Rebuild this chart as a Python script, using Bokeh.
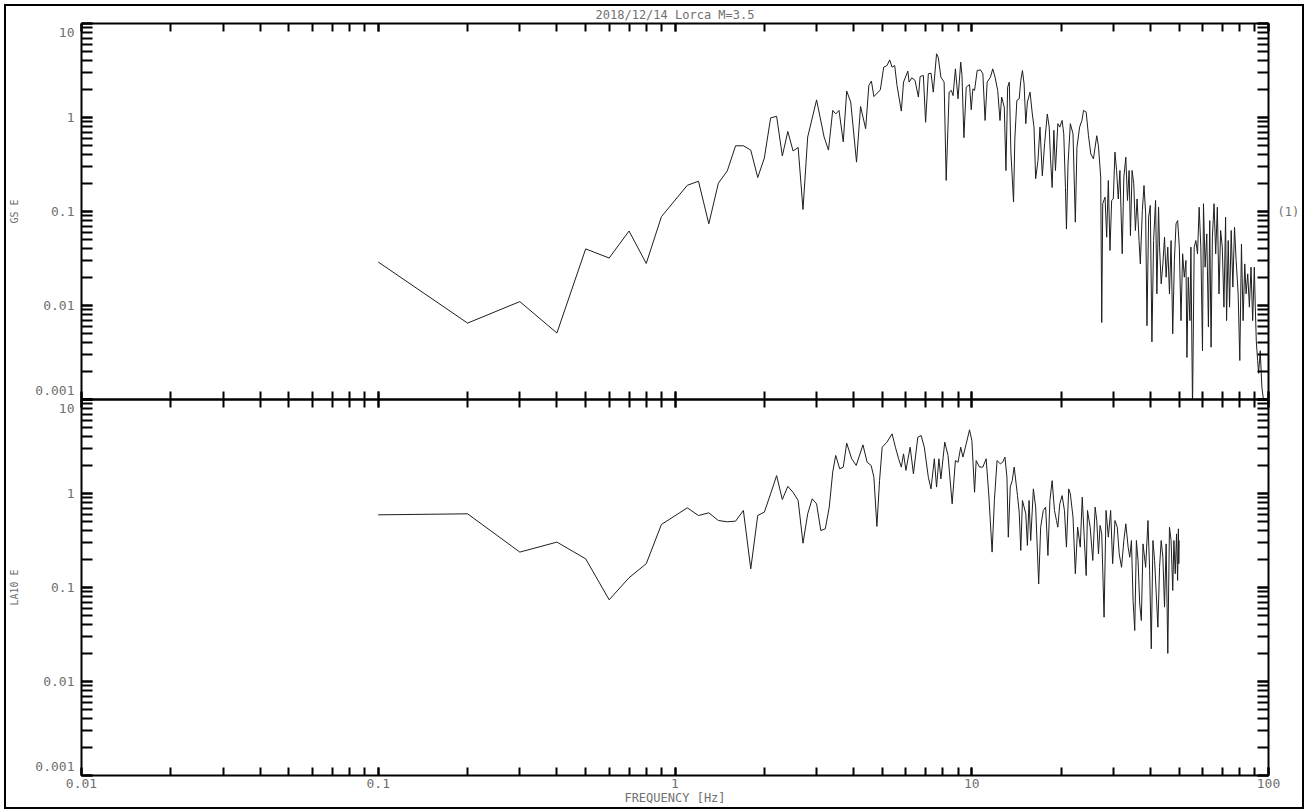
from bokeh.plotting import figure
from bokeh.models import Range1d, LogAxis, LogTicker, CustomJSTickFormatter
from bokeh.layouts import column
from bokeh.embed import file_html
from bokeh.resources import INLINE

TITLE = "2018/12/14 Lorca M=3.5"
X_LABEL = "FREQUENCY [Hz]"
GS_LABEL = "GS E"
LA10_LABEL = "LA10 E"
GS_NOTE = "(1)"

# Amplitude spectrum, station GS, E component (frequency in Hz)
gs_freq = [
    0.1, 0.2, 0.3, 0.4, 0.5, 0.6, 0.7, 0.8, 0.9, 1.1, 1.2, 1.3, 1.4, 1.5,
    1.6, 1.7, 1.8, 1.9, 2.0, 2.1, 2.2, 2.3, 2.4, 2.5, 2.6, 2.7, 2.8, 3.0,
    3.18, 3.29, 3.40, 3.48, 3.57, 3.69, 3.79, 3.91, 4.09, 4.22, 4.39, 4.50,
    4.59, 4.68, 4.92, 5.05, 5.18, 5.29, 5.39, 5.50, 5.60, 5.79, 5.89, 6.09,
    6.15, 6.28, 6.44, 6.61, 6.70, 6.87, 6.99, 7.14, 7.29, 7.42, 7.61, 7.71,
    7.87, 8.07, 8.20, 8.39, 8.54, 8.65, 8.81, 8.99, 9.18, 9.27, 9.41, 9.58,
    9.83, 9.96, 10.09, 10.22, 10.43, 10.70, 10.90, 11.09, 11.27, 11.56,
    11.77, 11.98, 12.23, 12.45, 12.61, 12.87, 13.04, 13.21, 13.38, 13.55,
    13.83, 13.97, 14.19, 14.45, 14.63, 14.82, 15.01, 15.21, 15.40, 15.72,
    16.00, 16.21, 16.42, 16.72, 16.98, 17.29, 17.60, 17.97, 18.24, 18.43,
    18.66, 18.91, 19.15, 19.50, 19.80, 20.16, 20.42, 20.69, 20.85, 21.11,
    21.49, 21.94, 22.34, 22.62, 23.09, 23.51, 23.81, 24.30, 24.74, 25.19,
    25.71, 26.38, 26.72, 27.20, 27.42, 27.63, 28.13, 28.49, 28.86, 29.23,
    29.61, 29.99, 30.38, 30.77, 31.17, 31.57, 32.14, 32.55, 33.05, 33.48,
    33.91, 34.26, 34.70, 35.15, 35.60, 36.07, 36.62, 36.99, 37.57, 38.06,
    38.55, 38.95, 39.45, 39.96, 40.47, 41.00, 41.64, 42.06, 42.61, 42.94,
    43.49, 44.06, 44.63, 45.19, 45.77, 46.37, 46.96, 47.56, 48.18, 48.80,
    49.42, 50.06, 50.71, 51.36, 52.03, 52.70, 53.11, 53.65, 54.35, 54.77,
    55.46, 56.18, 56.91, 57.65, 58.39, 59.15, 59.92, 60.38, 61.15, 61.94,
    62.74, 63.39, 64.04, 64.70, 65.54, 66.38, 67.23, 68.10, 68.98, 69.87,
    70.77, 71.68, 72.23, 73.16, 73.92, 74.87, 75.84, 76.82, 77.80, 79.02,
    80.04, 81.07, 82.11, 83.17, 84.03, 85.12, 86.21, 87.32, 88.44, 89.58,
    90.27, 90.96, 91.90, 92.60, 93.80, 95.00, 96.23, 98.0, 100.0,
]
gs_amp = [
    0.029, 0.0065, 0.011, 0.0051, 0.040, 0.032, 0.062, 0.028, 0.088, 0.19,
    0.21, 0.074, 0.20, 0.27, 0.50, 0.50, 0.45, 0.23, 0.37, 0.99, 1.03, 0.39,
    0.71, 0.44, 0.48, 0.105, 0.62, 1.54,
    0.62, 0.45, 1.19, 1.09, 1.19, 0.55, 1.91, 1.46, 0.335, 1.31, 0.76, 2.19,
    2.44, 1.67, 1.97, 3.43, 3.57, 4.10, 3.43, 3.57, 2.19, 1.17, 2.38, 3.11,
    2.38, 2.64, 2.48, 1.65, 2.73, 2.80, 0.89, 2.92, 2.96, 1.86, 4.76, 4.38,
    2.69, 2.38, 0.214, 1.86, 1.94, 1.71, 3.29, 1.58, 3.88, 2.80, 0.61, 2.10,
    2.24, 1.21, 2.02, 1.94, 3.16, 3.21, 2.92, 0.93, 2.38, 2.69,
    3.29, 2.69, 1.94, 0.93, 1.65, 1.29, 0.273, 2.10, 2.38, 0.43,
    0.126, 0.59, 1.52, 1.58, 2.48, 3.16, 2.28, 0.86, 1.46, 1.86,
    1.09, 0.79, 0.223, 0.35, 0.79, 0.24, 0.525, 1.09, 0.79, 0.363,
    0.18, 0.73, 0.273, 0.86, 0.79, 0.93, 0.67, 0.18, 0.065, 0.32,
    0.86, 0.67, 0.077, 0.48, 0.79, 0.93, 1.19, 1.14, 0.64, 0.41,
    0.363, 0.64, 0.50, 0.232, 0.0066, 0.121, 0.142, 0.0533, 0.214, 0.0385,
    0.131, 0.136, 0.428, 0.273, 0.136, 0.273, 0.0355, 0.232, 0.378, 0.131,
    0.273, 0.0555, 0.273, 0.197, 0.0628, 0.136, 0.0491, 0.0277, 0.1025, 0.189,
    0.0945, 0.0061, 0.087, 0.116, 0.0041, 0.0491, 0.131, 0.0133, 0.111, 0.0418,
    0.0170, 0.0277, 0.0533, 0.0200, 0.0418, 0.0133, 0.0491, 0.0050, 0.0301, 0.074,
    0.080, 0.0418, 0.0069, 0.0355, 0.0200, 0.0301, 0.0028, 0.0200, 0.0069, 0.0418,
    0.0008, 0.0418, 0.0491, 0.0355, 0.111, 0.0418, 0.0033, 0.121, 0.0256, 0.0578,
    0.0059, 0.080, 0.0036, 0.0533, 0.121, 0.0355, 0.111, 0.0133, 0.0628, 0.0418,
    0.0096, 0.087, 0.0069, 0.0491, 0.0096, 0.0628, 0.0157, 0.068, 0.0301, 0.0133,
    0.0026, 0.045, 0.0069, 0.0277, 0.0133, 0.0217, 0.0096, 0.0256, 0.0069, 0.0256,
    0.0096, 0.0042, 0.0026, 0.0019, 0.0033, 0.00135, 0.00098, 0.0006, 0.0004,
]

# Amplitude spectrum, station LA10, E component (frequency in Hz)
la10_freq = [
    0.1, 0.2, 0.3, 0.4, 0.5, 0.6, 0.7, 0.8, 0.9, 1.1, 1.2, 1.3, 1.4, 1.5,
    1.6, 1.7, 1.8, 1.9, 2.0, 2.1, 2.2, 2.3, 2.4, 2.5, 2.6, 2.7, 2.8, 2.9,
    3.0, 3.1, 3.21, 3.31, 3.40, 3.48, 3.59, 3.69, 3.79, 3.94, 4.08, 4.30,
    4.44, 4.58, 4.68, 4.79, 4.89, 4.99, 5.18, 5.39, 5.53, 5.67, 5.79, 5.89,
    6.00, 6.20, 6.36, 6.58, 6.75, 6.92, 7.14, 7.29, 7.48, 7.61, 7.75, 7.87,
    8.11, 8.32, 8.59, 8.81, 8.99, 9.18, 9.34, 9.58, 9.83, 10.01, 10.22,
    10.35, 10.62, 10.90, 11.18, 11.41, 11.71, 11.92, 12.17, 12.48, 12.71,
    12.94, 13.14, 13.28, 13.48, 13.69, 13.90, 14.26, 14.45, 14.63, 14.82,
    15.21, 15.40, 15.60, 15.80, 16.13, 16.42, 16.81, 17.07, 17.42, 17.74,
    18.06, 18.34, 18.66, 19.00, 19.30, 19.50, 19.80, 20.16, 20.53, 20.85,
    21.22, 21.49, 21.94, 22.34, 22.74, 23.21, 23.57, 23.93, 24.30, 24.55,
    25.06, 25.58, 26.05, 26.38, 26.73, 27.07, 27.42, 27.92, 28.35, 28.86,
    29.38, 29.84, 30.38, 30.93, 31.40, 31.97, 32.55, 33.05, 33.65, 34.08,
    34.52, 34.97, 35.42, 35.88, 36.34, 36.81, 37.28, 37.77, 38.55, 39.25,
    39.76, 40.27, 40.79, 41.32, 41.85, 42.39, 42.94, 43.49, 44.06, 44.63,
    45.19, 45.78, 46.37, 46.96, 47.57, 48.0, 48.5, 49.0, 49.4, 49.7, 49.85,
    50.0,
]
la10_amp = [
    0.593, 0.608, 0.238, 0.304, 0.202, 0.074, 0.127, 0.179, 0.468, 0.704,
    0.583, 0.623, 0.516, 0.500, 0.508, 0.66, 0.158, 0.583, 0.633, 0.992,
    1.55, 0.863, 1.19, 1.03, 0.843, 0.296, 0.608, 0.878, 0.776, 0.404,
    0.421, 0.716, 1.69, 2.54, 1.83, 1.91, 3.43, 2.34, 1.99, 3.29,
    2.15, 1.99, 1.49, 0.446, 1.37, 3.11, 3.52, 4.31, 3.11, 2.34, 1.91, 2.64,
    1.76, 3.11, 1.62, 3.97, 4.14, 3.11, 1.49, 1.12, 2.34, 1.17, 2.34, 1.43,
    3.52, 2.54, 0.776, 2.24, 2.15, 3.11, 2.44, 3.38, 4.76, 3.66, 1.03,
    2.24, 1.91, 1.91, 2.34, 0.99, 0.238, 0.843, 2.24, 2.07, 2.15,
    2.44, 1.49, 0.343, 1.17, 1.37, 1.91, 0.95, 0.633, 0.248, 0.843,
    0.608, 0.28, 0.843, 0.316, 1.12, 0.716, 0.109, 0.438, 0.66, 0.716,
    0.219, 0.843, 1.37, 0.66, 0.516, 0.438, 0.776, 0.95, 0.66, 0.269,
    1.12, 0.99, 0.56, 0.14, 0.438, 0.269, 0.914, 0.343, 0.134, 0.66,
    0.438, 0.194, 0.716, 0.516, 0.228, 0.457, 0.372, 0.0483, 0.66, 0.343,
    0.66, 0.179, 0.516, 0.438, 0.228, 0.164, 0.316, 0.476, 0.269, 0.21,
    0.316, 0.0728, 0.0349, 0.316, 0.194, 0.067, 0.0446, 0.291, 0.164, 0.516,
    0.152, 0.0223, 0.316, 0.194, 0.0857, 0.0378, 0.164, 0.316, 0.21, 0.0618,
    0.291, 0.0199, 0.438, 0.316, 0.093, 0.316, 0.14, 0.372, 0.119, 0.421, 0.179,
    0.316,
]

FONT = "DejaVu Sans Mono"
TEXT_GRAY = "#707070"
TRACE = "#1e1e1e"
SEAM = 20  # spare canvas on each side of the shared panel edge

freq_range = Range1d(0.01, 100)
x_format = CustomJSTickFormatter(code="return Number(tick.toPrecision(3)).toString();")
# end labels of the amplitude axis get a blank line so they sit inside the panel
y_format = CustomJSTickFormatter(code="""
    const s = Number(tick.toPrecision(3)).toString();
    if (tick >= 9.99) { return ' \\n' + s; }
    if (tick <= 0.00101) { return s + '\\n '; }
    return s;
""")


def style_axis(ax, tick_len, labelled, fmt):
    ax.ticker = LogTicker(num_minor_ticks=10)
    ax.axis_line_color = "black"
    ax.axis_line_width = 2
    ax.major_tick_in = tick_len
    ax.major_tick_out = 0
    ax.minor_tick_in = tick_len
    ax.minor_tick_out = 0
    ax.major_tick_line_color = "black"
    ax.minor_tick_line_color = "black"
    ax.major_tick_line_width = 2
    ax.minor_tick_line_width = 2
    ax.formatter = fmt
    ax.major_label_text_font = FONT
    if labelled:
        ax.major_label_text_font_size = "13px"
        ax.major_label_text_color = TEXT_GRAY
    else:
        # ticks only: labels kept tiny and fully transparent
        ax.major_label_text_font_size = "1px"
        ax.major_label_text_alpha = 0
        ax.major_label_standoff = 0


def panel(height, top, bottom, ylabel, freq, amp, x_labelled):
    p = figure(width=1296, height=height, x_axis_type="log", y_axis_type="log",
               x_range=freq_range, y_range=Range1d(0.001, 10),
               output_backend="svg", toolbar_location=None,
               min_border_left=68, min_border_right=30,
               min_border_top=top, min_border_bottom=bottom)
    p.outline_line_color = None
    p.xgrid.visible = False
    p.ygrid.visible = False

    x_below = p.xaxis[0]
    y_left = p.yaxis[0]
    style_axis(x_below, 8, x_labelled, x_format)
    style_axis(y_left, 11, True, y_format)
    y_left.major_label_standoff = 7
    y_left.axis_label = ylabel
    y_left.axis_label_text_font = FONT
    y_left.axis_label_text_font_size = "10px"
    y_left.axis_label_text_font_style = "normal"
    y_left.axis_label_text_color = TEXT_GRAY
    y_left.axis_label_standoff = 12

    x_above = LogAxis()
    style_axis(x_above, 8, False, x_format)
    p.add_layout(x_above, "above")

    y_right = LogAxis()
    style_axis(y_right, 11, False, x_format)
    p.add_layout(y_right, "right")

    p.line(freq, amp, line_color=TRACE, line_width=1)
    return p, x_below, y_right


# upper panel: GS station
p_gs, _, gs_right = panel(393 + SEAM, 17, SEAM, GS_LABEL, gs_freq, gs_amp, False)
p_gs.background_fill_color = "white"
p_gs.border_fill_color = "white"
gs_right.axis_label = GS_NOTE
gs_right.axis_label_orientation = "horizontal"
gs_right.axis_label_text_font = FONT
gs_right.axis_label_text_font_size = "12px"
gs_right.axis_label_text_font_style = "normal"
gs_right.axis_label_text_color = TEXT_GRAY
gs_right.axis_label_standoff = 9

p_gs.title.text = TITLE
p_gs.title.align = "center"
p_gs.title.vertical_align = "top"
p_gs.title.text_font = FONT
p_gs.title.text_font_size = "12px"
p_gs.title.text_font_style = "normal"
p_gs.title.text_color = TEXT_GRAY
p_gs.title.standoff = 0

# lower panel: LA10 station, transparent so it can share the seam with the upper one
p_la, xa, _ = panel(408 + SEAM, SEAM, 32, LA10_LABEL, la10_freq, la10_amp, True)
p_la.background_fill_color = None
p_la.border_fill_color = None
p_la.margin = (-2 * SEAM, 0, 0, 0)
xa.major_label_standoff = 3
xa.axis_label = X_LABEL
xa.axis_label_text_font = FONT
xa.axis_label_text_font_size = "12px"
xa.axis_label_text_font_style = "normal"
xa.axis_label_text_color = TEXT_GRAY
xa.axis_label_standoff = 0

layout = column(p_gs, p_la, spacing=0,
                styles={"border": "2px solid black", "background": "white"},
                margin=(4, 0, 0, 4))

open("out.html", "w").write(file_html(layout, INLINE))
